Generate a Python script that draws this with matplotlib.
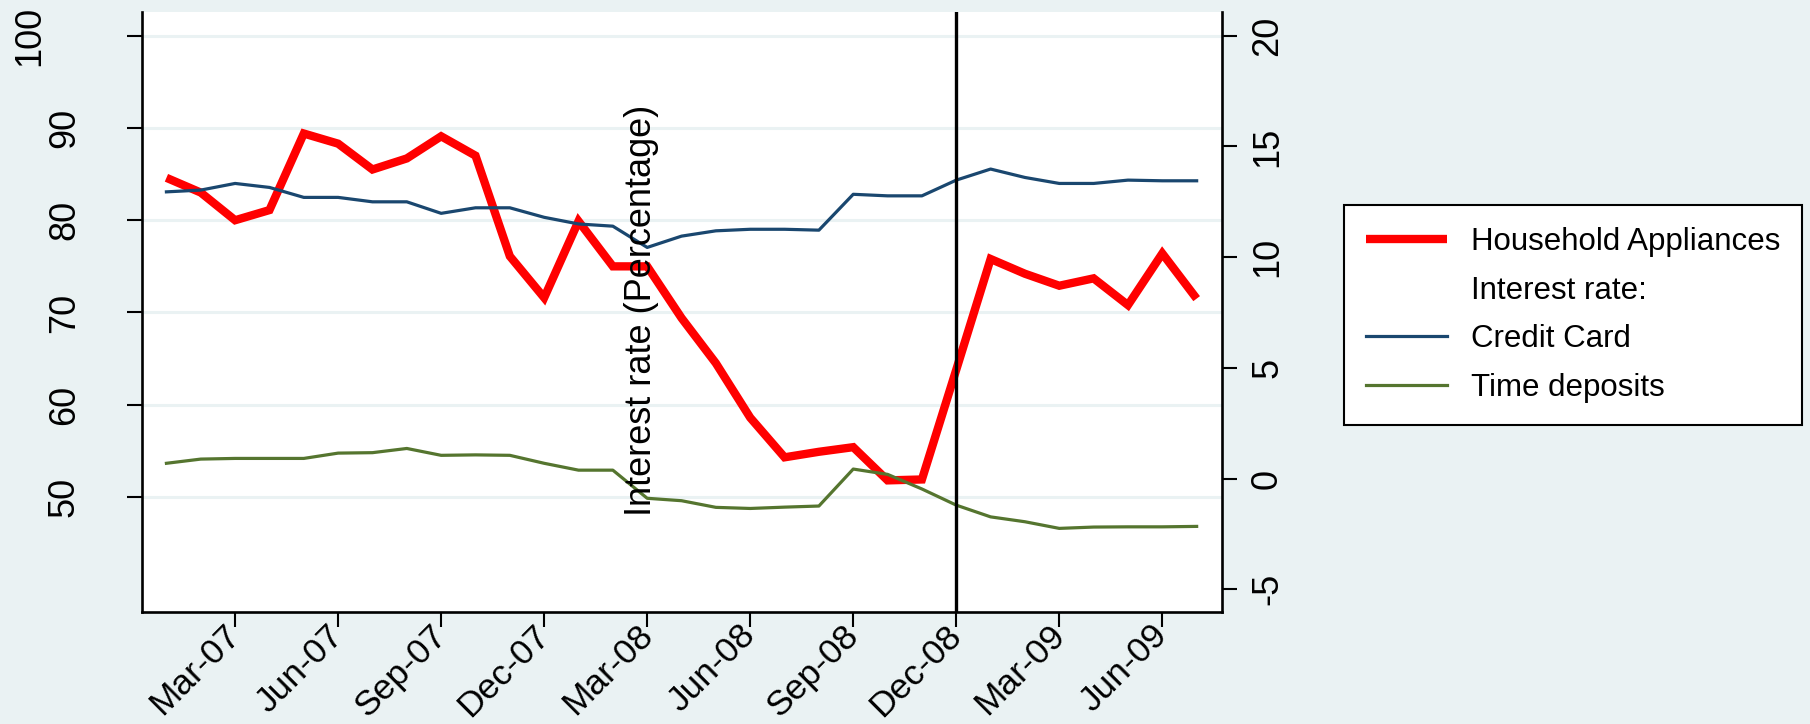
import numpy as np
import matplotlib
matplotlib.use("Agg")
import matplotlib.pyplot as plt
from matplotlib.lines import Line2D

plt.rcParams['font.family'] = ['Liberation Sans', 'DejaVu Sans']

# ---------------- data ----------------
months = ['Jan-07', 'Feb-07', 'Mar-07', 'Apr-07', 'May-07', 'Jun-07', 'Jul-07', 'Aug-07',
          'Sep-07', 'Oct-07', 'Nov-07', 'Dec-07', 'Jan-08', 'Feb-08', 'Mar-08', 'Apr-08',
          'May-08', 'Jun-08', 'Jul-08', 'Aug-08', 'Sep-08', 'Oct-08', 'Nov-08', 'Dec-08',
          'Jan-09', 'Feb-09', 'Mar-09', 'Apr-09', 'May-09', 'Jun-09', 'Jul-09']

household_appliances = [84.6, 83.0, 80.0, 81.1, 89.4, 88.3, 85.5, 86.7, 89.1, 87.0, 76.1,
                        71.6, 79.9, 75.0, 75.0, 69.4, 64.5, 58.6, 54.3, 54.9, 55.4, 51.8,
                        51.9, 63.8, 75.8, 74.2, 72.9, 73.7, 70.8, 76.4, 71.5]

credit_card = [12.95, 13.03, 13.33, 13.15, 12.70, 12.70, 12.50, 12.50, 11.98, 12.23, 12.23,
               11.80, 11.50, 11.40, 10.44, 10.95, 11.19, 11.26, 11.26, 11.22, 12.84, 12.77,
               12.77, 13.48, 13.98, 13.60, 13.33, 13.33, 13.48, 13.45, 13.45]

time_deposits = [0.69, 0.88, 0.91, 0.91, 0.91, 1.15, 1.17, 1.36, 1.05, 1.07, 1.05, 0.69,
                 0.38, 0.38, -0.89, -1.00, -1.30, -1.35, -1.29, -1.24, 0.43, 0.19, -0.47,
                 -1.20, -1.73, -1.95, -2.25, -2.19, -2.18, -2.18, -2.16]

xtick_labels = ['Mar-07', 'Jun-07', 'Sep-07', 'Dec-07', 'Mar-08', 'Jun-08', 'Sep-08',
                'Dec-08', 'Mar-09', 'Jun-09']
left_ticks = [50, 60, 70, 80, 90, 100]
right_ticks = [-5, 0, 5, 10, 15, 20]
event_month = 'Dec-08'

legend_labels = ['Household Appliances', 'Interest rate:', 'Credit Card', 'Time deposits']
right_title = 'Interest rate (Percentage)'

# ---------------- style ----------------
BG = '#EAF2F3'
RED = '#FF0000'
NAVY = '#1A476F'
GREEN = '#55752F'

x = np.arange(len(months))
xticks = [months.index(m) for m in xtick_labels]

fig = plt.figure(figsize=(18.1, 7.24), dpi=100, facecolor=BG)
ax = fig.add_axes([0.07829, 0.15428, 0.59669, 0.82873])
ax.set_facecolor('white')
ax2 = ax.twinx()

l_red, = ax.plot(x, household_appliances, color=RED, lw=6.0,
                 solid_joinstyle='miter', solid_capstyle='butt', zorder=3)
l_blue, = ax2.plot(x, credit_card, color=NAVY, lw=2.3, zorder=3)
l_green, = ax2.plot(x, time_deposits, color=GREEN, lw=2.3, zorder=3)
ax2.axvline(months.index(event_month), color='black', lw=2.4, zorder=4)

ax.set_xlim(-0.72, 30.73)
ax.set_ylim(37.5, 102.54)
ax2.set_ylim(-6.04, 21.06)

# spines
for a in (ax, ax2):
    for s in a.spines.values():
        s.set_visible(False)
        s.set_linewidth(1.9)
        s.set_color('black')
ax.spines['left'].set_visible(True)
ax.spines['bottom'].set_visible(True)
ax2.spines['right'].set_visible(True)

# grid
ax.set_yticks(left_ticks)
ax.yaxis.grid(True, color=BG, lw=2.2)
ax.set_axisbelow(True)

# x ticks
ax.set_xticks(xticks)
ax.set_xticklabels(xtick_labels, rotation=45, ha='right', va='center',
                   rotation_mode='anchor', fontsize=25.5)
ax.tick_params(axis='x', direction='out', length=10.5, width=1.5, pad=2.5)

# y ticks (labels drawn as rotated text)
ax.tick_params(axis='y', direction='out', length=11, width=1.5, labelleft=False)
ax2.set_yticks(right_ticks)
ax2.tick_params(axis='y', direction='out', length=11, width=1.5, labelright=False)

ytr = ax.get_yaxis_transform()
for v in left_ticks:
    xpos = -0.1035 if v == max(left_ticks) else -0.0715
    ax.text(xpos, v, str(v), rotation=90, ha='center', va='center',
            fontsize=26, transform=ytr, clip_on=False)
ytr2 = ax2.get_yaxis_transform()
for v in right_ticks:
    ax2.text(1.0424, v, str(v), rotation=90, ha='center', va='center',
             fontsize=26, transform=ytr2, clip_on=False)

# the right-axis title (rendered inside the plot area, as in the original)
ax2.text(0.463, 0.504, right_title, rotation=90, ha='center', va='center',
         fontsize=26, transform=ax2.transAxes, zorder=5)

# legend
blank = Line2D([], [], color='none')
leg = fig.legend([l_red, blank, l_blue, l_green], legend_labels,
                 loc='upper left', bbox_to_anchor=(1344 / 1810, 1 - 205 / 724),
                 bbox_transform=fig.transFigure, borderaxespad=0, fontsize=22.5,
                 frameon=True, fancybox=False, edgecolor='black', facecolor='white',
                 framealpha=1, handlelength=2.6, handletextpad=0.75,
                 borderpad=0.7, labelspacing=0.6)
leg.get_frame().set_linewidth(1.5)

fig.savefig('out.png', dpi=100, facecolor=fig.get_facecolor())
